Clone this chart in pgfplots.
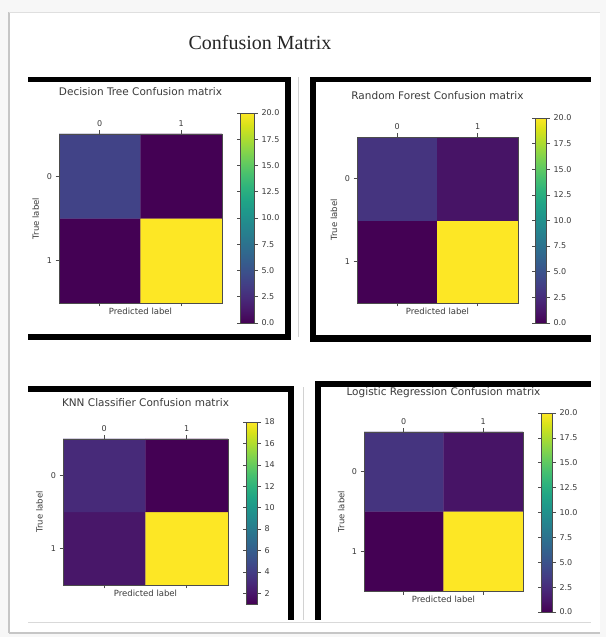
\documentclass[border=0pt]{standalone}
\usepackage{pgfplots}
\pgfplotsset{compat=1.18}
\usepackage{fontspec}
\setmainfont{DejaVu Sans}
\newfontfamily\titlefont{Liberation Serif}
\definecolor{txt}{HTML}{3A3A3A}
\pgfplotsset{
  cm/.style={
    scale only axis, axis on top,
    xmin=-0.5, xmax=1.5, ymin=-0.5, ymax=1.5,
    xtick={0,1}, xticklabels={0,1},
    ytick={0,1}, yticklabels={1,0},
    xtick pos=both, xticklabel pos=upper, ytick pos=left,
    tick align=outside, major tick length=3.5pt,
    tick style={black!70, line width=0.6pt},
    axis line style={black!70, line width=0.6pt},
    tick label style={font=\fontsize{8}{9}\selectfont, text=txt},
    label style={font=\fontsize{8.5}{10}\selectfont, text=txt},
    title style={font=\fontsize{10.5}{12}\selectfont, text=txt, at={(axis description cs:0.5,1)}, anchor=center},
    xlabel={Predicted label}, ylabel={True label},
    xlabel style={at={(axis description cs:0.5,0)}, anchor=center, yshift=-8pt},
    ylabel style={at={(axis description cs:-0.143,0.5)}, anchor=center},
    colormap/viridis,
    colorbar,
  },
  cb/.style={
    at={(parent axis.north east)}, anchor=north west,
    scale only axis,
    tick align=outside, major tick length=3.5pt,
    tick style={black!70, line width=0.6pt},
    axis line style={black!70, line width=0.6pt},
    yticklabel style={font=\fontsize{8}{9}\selectfont, text=txt},
  },
  cbtwenty/.style={
    ytick={0,2.5,5,7.5,10,12.5,15,17.5,20},
    yticklabels={0.0,2.5,5.0,7.5,10.0,12.5,15.0,17.5,20.0},
  },
}
\begin{document}
\begin{tikzpicture}[x=1pt,y=1pt]
% page background
\fill[gray!6] (0,0) rectangle (606,637);
\fill[white] (9,4) rectangle (600,625);
\draw[gray!45, line width=1.2pt] (9,4) -- (9,625);
\draw[gray!45, line width=1.2pt] (9,4) -- (600,4);
\draw[gray!25, line width=0.6pt] (9,625) -- (600,625);
\draw[gray!30, line width=0.8pt] (28,15) -- (591,15);
% frames panel 1
\fill[black] (28,555) rectangle (291,560);
\fill[black] (285,297) rectangle (291,560);
\fill[black] (28,297) rectangle (291,303);
\draw[gray!35, line width=1pt] (298,300) -- (298,560);
% frames panel 2
\fill[black] (310,555) rectangle (591,560);
\fill[black] (310,295) rectangle (316,560);
\fill[black] (310,295) rectangle (591,302);
% frames panel 3
\fill[black] (28,245) rectangle (294,251);
\fill[black] (288,17) rectangle (294,251);
% frames panel 4
\fill[black] (315,250) rectangle (591,256);
\fill[black] (315,17) rectangle (321,256);
\draw[gray!35, line width=1pt] (303,17) -- (303,250);
% main title
\node[font=\titlefont\fontsize{20}{24}\selectfont, text=black!85] at (260,594) {Confusion Matrix};

% Decision Tree
\begin{axis}[cm, at={(59pt,503pt)}, anchor=north west, width=163pt, height=169pt,
  title={Decision Tree Confusion matrix}, title style={yshift=36pt},
  point meta min=0, point meta max=20,
  colorbar style={cb, cbtwenty, xshift=10pt, yshift=21pt, width=14pt, height=210pt}]
\addplot[matrix plot*, mesh/cols=2, point meta=explicit] table[meta=C] {
x y C
0 0 0
1 0 20
0 1 4
1 1 0
};
\end{axis}

% Random Forest
\begin{axis}[cm, at={(357pt,500pt)}, anchor=north west, width=161pt, height=166pt,
  title={Random Forest Confusion matrix}, title style={yshift=35pt},
  point meta min=0, point meta max=20,
  colorbar style={cb, cbtwenty, xshift=9pt, yshift=19pt, width=11pt, height=205pt}]
\addplot[matrix plot*, mesh/cols=2, point meta=explicit] table[meta=C] {
x y C
0 0 0
1 0 20
0 1 3
1 1 1
};
\end{axis}

% KNN
\begin{axis}[cm, at={(63pt,198pt)}, anchor=north west, width=165pt, height=146pt,
  title={KNN Classifier Confusion matrix}, title style={yshift=30pt},
  point meta min=1, point meta max=18,
  colorbar style={cb, ytick={2,4,6,8,10,12,14,16,18}, yticklabels={2,4,6,8,10,12,14,16,18},
    xshift=10pt, yshift=17pt, width=11pt, height=182pt}]
\addplot[matrix plot*, mesh/cols=2, point meta=explicit] table[meta=C] {
x y C
0 0 2
1 0 18
0 1 3
1 1 1
};
\end{axis}

% Logistic Regression
\begin{axis}[cm, at={(364pt,205pt)}, anchor=north west, width=159pt, height=159pt,
  title={Logistic Regression Confusion matrix}, title style={yshift=33pt},
  point meta min=0, point meta max=20,
  colorbar style={cb, cbtwenty, xshift=10pt, yshift=19pt, width=11pt, height=199pt}]
\addplot[matrix plot*, mesh/cols=2, point meta=explicit] table[meta=C] {
x y C
0 0 0
1 0 20
0 1 3
1 1 1
};
\end{axis}
\end{tikzpicture}
\end{document}
